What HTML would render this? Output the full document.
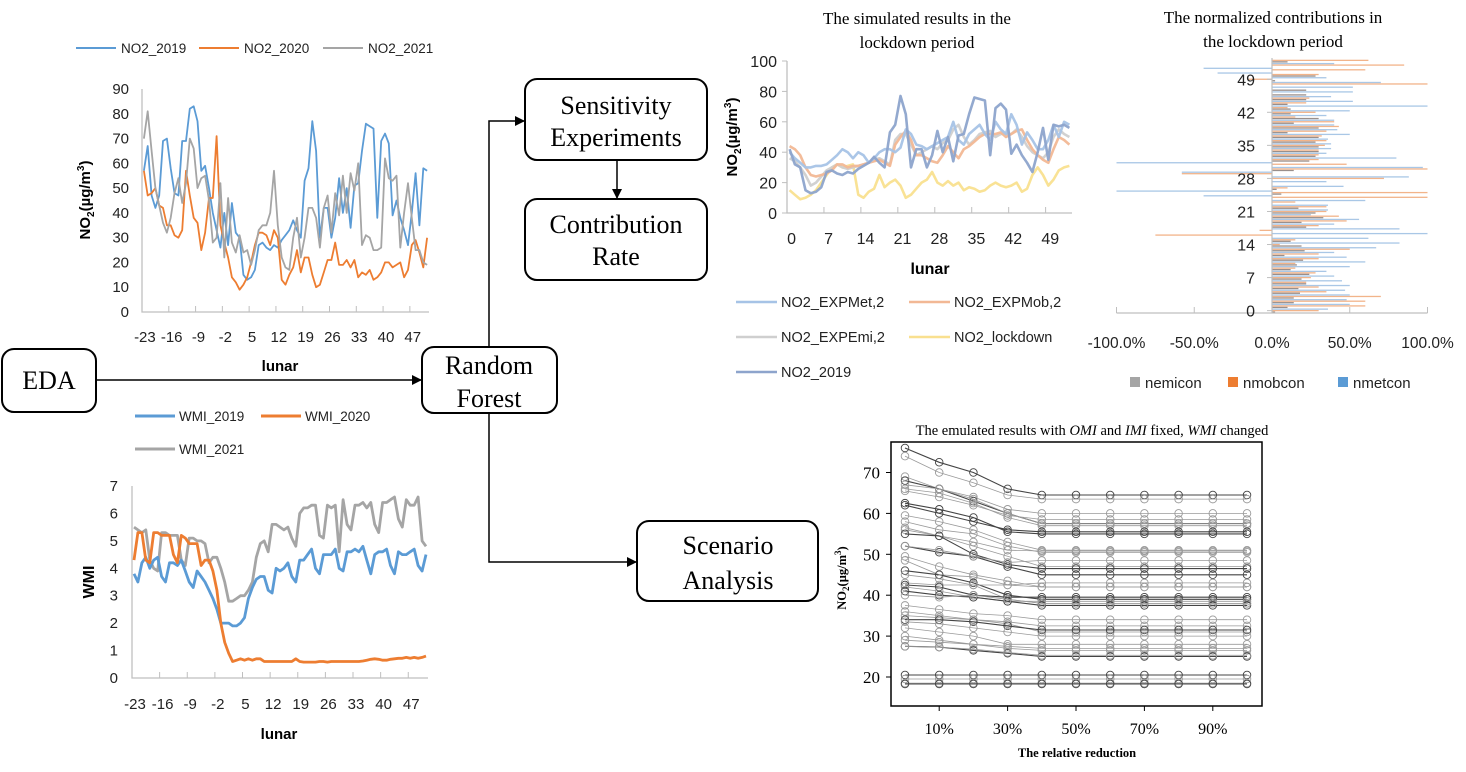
<!DOCTYPE html>
<html><head><meta charset="utf-8"><style>
html,body{margin:0;padding:0;background:#fff;}
svg{display:block;}
.sans{font-family:"Liberation Sans",sans-serif;}
.serif{font-family:"Liberation Serif",serif;}
</style></head><body>
<svg id="fig" width="1466" height="772" viewBox="0 0 1466 772" xmlns="http://www.w3.org/2000/svg">
<defs><marker id="ah" markerWidth="10" markerHeight="10" refX="9" refY="5" orient="auto" markerUnits="userSpaceOnUse"><path d="M0,0 L10,5 L0,10 z" fill="#000"/></marker></defs>
<g id="flow" fill="none" stroke="#000" stroke-width="1.5">
<line x1="96" y1="380" x2="421" y2="380" marker-end="url(#ah)"/>
<polyline points="489,347 489,121 524,121" marker-end="url(#ah)"/>
<line x1="617" y1="160" x2="617" y2="198" marker-end="url(#ah)"/>
<polyline points="489,413 489,562 636,562" marker-end="url(#ah)"/>
<rect x="2" y="349" width="94" height="63" rx="12" stroke-width="2" fill="#fff"/>
<rect x="422" y="347" width="135" height="66" rx="12" stroke-width="2" fill="#fff"/>
<rect x="525" y="79" width="182" height="81" rx="12" stroke-width="2" fill="#fff"/>
<rect x="525" y="199" width="182" height="81" rx="12" stroke-width="2" fill="#fff"/>
<rect x="637" y="521" width="181" height="80" rx="12" stroke-width="2" fill="#fff"/>
</g>
<g class="serif" font-size="26" text-anchor="middle" fill="#000">
<text x="49" y="389">EDA</text>
<text x="489" y="374">Random</text>
<text x="489" y="407">Forest</text>
<text x="616" y="114">Sensitivity</text>
<text x="616" y="146">Experiments</text>
<text x="616" y="233">Contribution</text>
<text x="616" y="265">Rate</text>
<text x="728" y="554">Scenario</text>
<text x="728" y="589">Analysis</text>
</g>
</svg>
<script>
// ---------- data ----------
const lunarA = []; for (let d = -23; d <= 51; d++) lunarA.push(d);
const lunarATicks = [-23,-16,-9,-2,5,12,19,26,33,40,47];
const no2_2019 = [57,67,47,42,47,69,70,58,48,47,69,69,82,83,77,57,59,50,40,33,26,40,27,44,32,30,15,13,14,17,27,28,26,25,27,26,29,31,33,37,33,30,53,58,77,65,30,42,42,30,38,54,40,50,34,51,52,65,76,75,74,38,69,72,68,39,45,38,33,27,40,56,35,58,57];
const no2_2020 = [57,47,48,50,43,42,35,35,31,30,33,57,47,38,36,25,32,46,46,71,35,28,22,14,12,9,11,14,20,27,32,32,31,27,33,30,13,11,15,18,25,16,22,22,15,10,11,16,21,21,28,19,19,21,18,21,14,16,15,17,13,14,16,20,20,18,19,20,14,17,27,29,24,18,30];
const no2_2021 = [70,81,65,50,43,36,32,38,48,54,44,52,70,66,50,54,55,45,28,30,52,22,46,28,24,31,24,25,19,25,33,35,35,40,57,35,22,18,17,30,38,22,30,42,42,38,26,42,47,32,48,39,55,40,56,49,60,27,31,30,25,25,26,62,54,53,55,26,40,52,38,25,25,20,19];
const no2Ticks = [0,10,20,30,40,50,60,70,80,90];
const wmi_2019 = [3.8,3.5,4.2,4.4,4.0,4.3,4.4,3.7,3.5,4.2,4.2,4.1,4.3,3.9,3.5,3.3,3.9,3.7,3.5,3.2,2.9,2.5,2.0,2.0,2.0,1.9,1.9,2.0,2.2,2.9,3.3,3.6,3.7,3.7,3.2,3.1,4.0,3.9,4.0,4.2,3.7,3.5,4.3,4.3,4.5,4.7,4.0,3.8,4.5,4.5,4.5,4.7,4.0,3.9,4.6,4.6,4.7,4.6,4.8,4.3,3.8,4.5,4.6,4.6,4.7,4.1,3.8,4.6,4.5,4.5,4.6,4.7,4.1,3.9,4.5];
const wmi_2020 = [4.3,5.3,5.3,4.3,4.2,5.3,5.3,5.2,5.2,5.2,4.5,4.2,5.2,5.1,4.9,4.9,4.9,4.1,4.3,4.3,3.9,3.2,2.0,1.3,0.9,0.6,0.65,0.7,0.65,0.7,0.65,0.7,0.7,0.6,0.6,0.6,0.6,0.6,0.6,0.6,0.6,0.7,0.6,0.58,0.58,0.58,0.58,0.6,0.6,0.58,0.6,0.6,0.6,0.6,0.6,0.6,0.6,0.6,0.62,0.65,0.68,0.7,0.68,0.65,0.65,0.68,0.7,0.72,0.72,0.75,0.72,0.75,0.72,0.75,0.8];
const wmi_2021 = [5.5,5.4,5.3,5.4,4.3,4.0,3.9,5.3,5.3,5.2,5.2,5.2,4.3,4.1,5.1,5.1,5.0,5.0,4.9,4.2,4.4,4.4,4.0,3.5,2.8,2.8,2.9,3.0,3.0,3.2,3.5,4.4,4.9,5.0,4.6,5.6,5.6,5.5,5.4,5.5,5.1,4.8,6.0,6.2,6.2,6.3,6.3,5.2,5.1,6.3,6.2,6.3,4.6,6.5,5.6,5.4,6.3,6.3,6.4,6.2,6.4,5.6,5.3,6.4,6.4,6.5,6.6,5.8,5.5,6.5,6.3,6.3,6.6,5.0,4.8];
const wmiTicks = [0,1,2,3,4,5,6,7];

const lunarB = []; for (let d = 0; d <= 53; d++) lunarB.push(d);
const lunarBTicks = [0,7,14,21,28,35,42,49];
const simTicks = [0,20,40,60,80,100];
const expMet = [40,36,33,30,30,31,31,32,35,38,42,40,36,40,38,33,36,40,42,42,40,43,55,52,45,44,42,44,46,48,50,60,48,45,52,55,58,52,48,60,55,52,65,58,45,53,48,42,42,48,58,50,60,58];
const expMob = [44,42,38,30,25,24,25,26,28,32,32,30,31,31,32,33,34,35,33,31,45,50,54,48,38,38,36,34,33,38,44,40,36,42,44,47,50,52,52,52,53,50,52,54,55,48,42,38,35,33,42,50,48,45];
const expEmi = [36,34,30,25,18,20,24,28,30,32,30,29,30,31,32,33,35,36,34,32,48,52,52,45,38,40,42,44,42,46,48,55,58,50,45,48,52,53,54,50,52,52,52,55,50,44,40,38,36,40,50,55,52,50];
const lockdown = [15,12,9,10,12,15,20,25,30,32,30,31,32,12,10,14,16,25,17,20,22,18,10,12,16,20,22,27,20,18,21,18,20,15,17,16,14,15,18,20,18,17,18,20,14,16,25,30,25,18,22,28,30,31];
const sim2019 = [42,32,30,15,13,14,17,27,28,26,25,27,26,29,31,33,37,33,30,53,58,77,65,30,42,42,30,38,54,40,50,34,51,52,65,76,75,74,38,69,72,68,39,45,38,33,27,40,56,35,58,57,58,56];

const contribCats = lunarB;
const contribTicks = [0,7,14,21,28,35,42,49];
const pctTicks = [-100,-50,0,50,100];
const nemicon = [2,10,14,14,18,17,22,19,24,12,16,20,8,21,19,12,0,0,22,19,33,28,17,0,0,6,3,0,0,0,14,0,24,28,30,30,28,30,10,30,14,30,12,12,10,22,22,22,0,2,28,0,0,10];
const nmobcon = [30,60,60,70,35,30,22,25,28,15,15,30,30,50,5,15,-75,-8,30,48,43,35,35,15,100,100,10,0,72,-58,100,48,30,30,30,34,35,32,35,43,40,15,28,10,22,24,0,0,100,-15,30,60,85,62];
const nmetcon = [36,50,48,50,47,50,45,40,35,50,60,48,40,67,82,62,100,82,40,56,25,36,36,60,-44,-100,46,35,88,-58,97,-100,80,35,38,38,36,50,42,40,40,35,50,100,52,38,52,52,70,35,-35,-44,40,0];

const reductions = [0,10,20,30,40,50,60,70,80,90,100];
const redTickLabels = [10,30,50,70,90];
const scenTicks = [20,30,40,50,60,70];
// values read at 0%,10%,20%,30%,40%; curves read flat from 40% to 100%
const scenLines = [
[76,72.5,70,66,64.5],[74,70,67.5,64.5,63.5],[69,66,64,61,60],[68,66,63,60,57.5],[67,66,63.5,60,57.5],
[66,65,62.5,59,57],[65.5,64,62,59.5,58.5],[62.5,61,59,55.5,55],[62,60,58,56,55.5],[59.5,58,56,53,51],
[58,56,55,52,50.5],[56.5,54.5,53,51,50.8],[56,54.5,52,49.5,47],[55,54.5,50,47.5,46.5],[52,50.5,49.5,47,45],
[52,51,49.5,48,48.5],[49.5,47,45,43.5,42],[48.5,45,44.5,42.5,42],[46,45,43,40,39],[45,44,42.5,39,38],
[43,42.5,42.5,42.5,43],[42.5,42,40,39.5,39.5],[42,41,39.5,38.5,38.5],[41,40,39.5,38.5,37.5],[40,39.5,40,39,38],
[37.5,36.5,35.5,35,34],[36,35,34,33.5,32.5],[35,34.5,34,33,31],[34,34,33.5,32.5,31.5],[33.5,33,32,31,30],
[32,31,30,28,28],[30,29,28,27,26.5],[29,28.5,28,27.5,27],[27.5,27.3,26.5,25.8,25],[27.5,27.3,26.8,26,25.3],
[20.5,20.5,20.5,20.5,20.5],[19.5,19.5,19.5,19.5,19.5],[18.5,18.5,18.5,18.5,18.5],[18.3,18.3,18.3,18.3,18.3]
];

// ---------- helpers ----------
const NS = "http://www.w3.org/2000/svg";
const svg = document.getElementById('fig');
function mk(tag, attrs, parent) {
  const e = document.createElementNS(NS, tag);
  for (const k in attrs) e.setAttribute(k, attrs[k]);
  (parent || svg).appendChild(e);
  return e;
}
function txt(str, attrs, parent) { const t = mk('text', attrs, parent); t.textContent = str; return t; }
function pathFrom(vals, fx, fy) { return vals.map((v, i) => (i ? 'L' : 'M') + fx(i).toFixed(1) + ',' + fy(v).toFixed(1)).join(''); }

// ---------- chart 1: NO2 top-left ----------
(function () {
  const g = mk('g', {class: 'sans'});
  
  
  const x0 = 142, x1 = 429, yB = 312, yT = 89;
  const n = lunarA.length, step = (x1 - x0) / n;
  const fx = i => x0 + (i + 0.5) * step;
  const fy = v => yB - v * (yB - yT) / 90;
  const ax = mk('path', {d: `M${x0},${yT}V${yB}H${x1}`, stroke: '#bfbfbf', fill: 'none', 'stroke-width': 1.3}, g);
  
  
  no2Ticks.forEach(v => {
    const t = txt(String(v), {x: 129, y: fy(v) + 5, 'font-size': 15, 'text-anchor': 'end', fill: '#222'}, g);
    
    
  });
  for (let k = 7; k <= n; k += 7) mk('line', {x1: x0 + k * step, x2: x0 + k * step, y1: yB, y2: yB - 6, stroke: '#bfbfbf'}, g);
  lunarATicks.forEach(d => {
    const t = txt(String(d), {x: fx(lunarA.indexOf(d)) + 1, y: 342, 'font-size': 15, 'text-anchor': 'middle', fill: '#222'}, g);
    
    
  });
  const xl = txt('lunar', {x: 280, y: 371, 'font-size': 15, 'font-weight': 'bold', 'text-anchor': 'middle'}, g);
  
  
  const yl = mk('text', {transform: 'translate(90,200) rotate(-90)', 'font-size': 15, 'font-weight': 'bold', 'text-anchor': 'middle'}, g);
  yl.innerHTML = 'NO<tspan font-size="10" dy="4">2</tspan><tspan dy="-4">(µg/m</tspan><tspan font-size="10" dy="-6">3</tspan><tspan dy="6">)</tspan>';
  
  
  const series = [[no2_2019, '#5b9bd5', 'NO2_2019', 76], [no2_2020, '#ed7d31', 'NO2_2020', 199], [no2_2021, '#a5a5a5', 'NO2_2021', 323]];
  series.forEach(s => {
    const p = mk('path', {d: pathFrom(s[0], fx, fy), stroke: s[1], fill: 'none', 'stroke-width': 1.8, 'stroke-linejoin': 'round'}, g);
    
    
    const lg = mk('g', {}, g);
    
    
    mk('line', {x1: s[3], x2: s[3] + 40, y1: 48, y2: 48, stroke: s[1], 'stroke-width': 2}, lg);
    txt(s[2], {x: s[3] + 45, y: 53, 'font-size': 13.5, fill: '#222'}, lg);
  });
})();

// ---------- chart 2: WMI bottom-left ----------
(function () {
  const g = mk('g', {class: 'sans'});
  
  
  const x0 = 132, x1 = 428, yB = 678, yT = 486;
  const n = lunarA.length, step = (x1 - x0) / n;
  const fx = i => x0 + (i + 0.5) * step;
  const fy = v => yB - v * (yB - yT) / 7;
  const ax = mk('path', {d: `M${x0},${yT}V${yB}H${x1}`, stroke: '#bfbfbf', fill: 'none', 'stroke-width': 1.3}, g);
  
  
  wmiTicks.forEach(v => {
    const t = txt(String(v), {x: 118, y: fy(v) + 5, 'font-size': 15, 'text-anchor': 'end', fill: '#222'}, g);
    
    
  });
  for (let k = 7; k <= n; k += 7) mk('line', {x1: x0 + k * step, x2: x0 + k * step, y1: yB, y2: yB - 6, stroke: '#bfbfbf'}, g);
  lunarATicks.forEach(d => {
    const t = txt(String(d), {x: fx(lunarA.indexOf(d)) + 1, y: 709, 'font-size': 15, 'text-anchor': 'middle', fill: '#222'}, g);
    
    
  });
  const xl = txt('lunar', {x: 279, y: 739, 'font-size': 15, 'font-weight': 'bold', 'text-anchor': 'middle'}, g);
  
  
  const yl = txt('WMI', {transform: 'translate(94,582) rotate(-90)', 'font-size': 16, 'font-weight': 'bold', 'text-anchor': 'middle'}, g);
  
  
  const series = [[wmi_2019, '#5b9bd5', 'WMI_2019', 135, 416], [wmi_2020, '#ed7d31', 'WMI_2020', 261, 416], [wmi_2021, '#a5a5a5', 'WMI_2021', 135, 449]];
  [series[2], series[0], series[1]].forEach(s => {
    const p = mk('path', {d: pathFrom(s[0], fx, fy), stroke: s[1], fill: 'none', 'stroke-width': 2.8, 'stroke-linejoin': 'round'}, g);
    
    
  });
  series.forEach(s => {
    const lg = mk('g', {}, g);
    
    
    mk('line', {x1: s[3], x2: s[3] + 40, y1: s[4], y2: s[4], stroke: s[1], 'stroke-width': 3}, lg);
    txt(s[2], {x: s[3] + 44, y: s[4] + 5, 'font-size': 13.5, fill: '#222'}, lg);
  });
})();

// ---------- chart 3: simulated results ----------
(function () {
  const g = mk('g', {class: 'sans'});
  
  
  const x0 = 787, x1 = 1072, yB = 213, yT = 61;
  const n = lunarB.length, step = (x1 - x0) / n;
  const fx = i => x0 + (i + 0.5) * step;
  const fy = v => yB - v * (yB - yT) / 100;
  const t1 = txt('The simulated results in the', {x: 917, y: 24, 'font-size': 17, 'text-anchor': 'middle', class: 'serif'}, g);
  
  
  const t2 = txt('lockdown period', {x: 917, y: 48, 'font-size': 17, 'text-anchor': 'middle', class: 'serif'}, g);
  
  
  const ax = mk('path', {d: `M${x0},${yT}V${yB}H${x1}`, stroke: '#bfbfbf', fill: 'none', 'stroke-width': 1.3}, g);
  
  
  simTicks.forEach(v => {
    mk('line', {x1: x0 - 5, x2: x0, y1: fy(v), y2: fy(v), stroke: '#bfbfbf'}, g);
    const t = txt(String(v), {x: 777, y: fy(v) + 6, 'font-size': 16, 'text-anchor': 'end', fill: '#222'}, g);
    
    
  });
  for (let k = 7; k <= n; k += 7) mk('line', {x1: x0 + k * step, x2: x0 + k * step, y1: yB, y2: yB - 6, stroke: '#bfbfbf'}, g);
  lunarBTicks.forEach(d => {
    const t = txt(String(d), {x: fx(lunarB.indexOf(d)) + 2, y: 244, 'font-size': 16, 'text-anchor': 'middle', fill: '#222'}, g);
    
    
  });
  const xl = txt('lunar', {x: 930, y: 274, 'font-size': 16, 'font-weight': 'bold', 'text-anchor': 'middle'}, g);
  
  
  const yl = mk('text', {transform: 'translate(737,137) rotate(-90)', 'font-size': 15, 'font-weight': 'bold', 'text-anchor': 'middle'}, g);
  yl.innerHTML = 'NO<tspan font-size="10" dy="4">2</tspan><tspan dy="-4">(µg/m</tspan><tspan font-size="10" dy="-6">3</tspan><tspan dy="6">)</tspan>';
  
  
  const series = [
    [lockdown, '#f9e08f', 'NO2_lockdown', 909, 337],
    [expEmi, '#cfcfcf', 'NO2_EXPEmi,2', 736, 337],
    [expMob, '#f2b895', 'NO2_EXPMob,2', 909, 302],
    [expMet, '#a6c3e6', 'NO2_EXPMet,2', 736, 302],
    [sim2019, '#8da4cc', 'NO2_2019', 736, 372]
  ];
  series.forEach(s => {
    const p = mk('path', {d: pathFrom(s[0], fx, fy), stroke: s[1], fill: 'none', 'stroke-width': 2.6, 'stroke-linejoin': 'round', 'stroke-opacity': 0.95}, g);
    
    
    const lg = mk('g', {}, g);
    
    
    mk('line', {x1: s[3], x2: s[3] + 41, y1: s[4], y2: s[4], stroke: s[1], 'stroke-width': 2.6}, lg);
    txt(s[2], {x: s[3] + 45, y: s[4] + 5, 'font-size': 14.5, fill: '#222'}, lg);
  });
})();

// ---------- chart 4: normalized contributions ----------
(function () {
  const g = mk('g', {class: 'sans'});
  
  
  const xZ = 1272, pxPer = 155.5 / 100, yB = 313, yT = 58;
  const n = contribCats.length, slot = (yB - yT) / n;
  const fx = v => xZ + v * pxPer;
  const fyc = i => yB - (i + 0.5) * slot;
  const t1 = txt('The normalized contributions in', {x: 1273, y: 23, 'font-size': 17, 'text-anchor': 'middle', class: 'serif'}, g);
  
  
  const t2 = txt('the lockdown period', {x: 1273, y: 47, 'font-size': 17, 'text-anchor': 'middle', class: 'serif'}, g);
  
  
  const series = [[nemicon, '#9a8f8b', 'nemicon', -1], [nmobcon, '#f2b48a', 'nmobcon', 0], [nmetcon, '#a9c7e6', 'nmetcon', 1]];
  contribCats.forEach((c, i) => {
    series.forEach(s => {
      const v = s[0][i];
      const y = fyc(i) - s[3] * 1.5 - 0.65;
      const r = mk('rect', {x: Math.min(fx(0), fx(v)), y: y, width: Math.abs(fx(v) - fx(0)), height: 1.3, fill: s[1]}, g);
      
      
    });
  });
  const ax = mk('path', {d: `M${xZ},${yT}V${yB}M${fx(-100)},${yB}H${fx(100)}`, stroke: '#bfbfbf', fill: 'none', 'stroke-width': 1.2}, g);
  
  
  pctTicks.forEach(v => {
    mk('line', {x1: fx(v), x2: fx(v), y1: yB, y2: yB - 6, stroke: '#bfbfbf'}, g);
    const t = txt(v.toFixed(1) + '%', {x: fx(v), y: 348, 'font-size': 15.5, 'text-anchor': 'middle', fill: '#222'}, g);
    
    
  });
  contribTicks.forEach(c => {
    const i = contribCats.indexOf(c);
    mk('line', {x1: xZ - 5, x2: xZ, y1: fyc(i), y2: fyc(i), stroke: '#bfbfbf'}, g);
    const t = txt(String(c), {x: 1255, y: fyc(i) + 6, 'font-size': 16, 'text-anchor': 'end', fill: '#222'}, g);
    
    
  });
  const lx = [1130, 1228, 1338];
  series.forEach((s, k) => {
    const lg = mk('g', {}, g);
    
    
    mk('rect', {x: lx[k], y: 377, width: 10, height: 10, fill: ['#a5a5a5', '#ed7d31', '#5b9bd5'][k]}, lg);
    txt(s[2], {x: lx[k] + 15, y: 388, 'font-size': 15, fill: '#222'}, lg);
  });
})();

// ---------- chart 5: scenario emulation ----------
(function () {
  const g = mk('g', {class: 'serif'});
  
  
  const fx = p => 905 + p * 3.42;
  const fy = v => 677 - (v - 20) * 4.09;
  const ti = mk('text', {x: 1092, y: 435, 'font-size': 14.5, 'text-anchor': 'middle'}, g);
  ti.innerHTML = 'The emulated results with <tspan font-style="italic">OMI</tspan> and <tspan font-style="italic">IMI</tspan> fixed, <tspan font-style="italic">WMI</tspan> changed';
  
  
  scenLines.forEach((L, li) => {
    const vals = reductions.map((r, k) => L[Math.min(k, L.length - 1)]);
    const dark = (li % 5 === 3 || li % 7 === 0);
    const col = dark ? '#444' : '#9a9a9a';
    const lg = mk('g', {}, g);
    
    
    mk('path', {d: pathFrom(vals, k => fx(reductions[k]), fy), stroke: col, fill: 'none', 'stroke-width': dark ? 1.1 : 0.8}, lg);
    vals.forEach((v, k) => {
      const c = mk('circle', {cx: fx(reductions[k]), cy: fy(v), r: 3.8, fill: 'none', stroke: col, 'stroke-width': 0.9}, lg);
      
      
    });
  });
  const fr = mk('rect', {x: 891, y: 442, width: 371, height: 264, fill: 'none', stroke: '#000', 'stroke-width': 1.5}, g);
  
  
  scenTicks.forEach(v => {
    mk('line', {x1: 886, x2: 891, y1: fy(v), y2: fy(v), stroke: '#000'}, g);
    const t = txt(String(v), {x: 880, y: fy(v) + 6, 'font-size': 17, 'text-anchor': 'end'}, g);
    
    
  });
  redTickLabels.forEach(p => {
    mk('line', {x1: fx(p), x2: fx(p), y1: 706, y2: 711, stroke: '#000'}, g);
    const t = txt(p + '%', {x: fx(p), y: 734, 'font-size': 16, 'text-anchor': 'middle'}, g);
    
    
  });
  const xl = txt('The relative reduction', {x: 1077, y: 757, 'font-size': 12.5, 'font-weight': 'bold', 'text-anchor': 'middle'}, g);
  
  
  const yl = mk('text', {transform: 'translate(846,578) rotate(-90)', 'font-size': 12.5, 'font-weight': 'bold', 'text-anchor': 'middle'}, g);
  yl.innerHTML = 'NO<tspan font-size="9" dy="3">2</tspan><tspan dy="-3">(µg/m</tspan><tspan font-size="9" dy="-5">3</tspan><tspan dy="5">)</tspan>';
  
  
})();

// keep flowchart on top
svg.appendChild(document.getElementById('flow'));
Array.from(svg.querySelectorAll('text.serif, g.serif[font-size="26"]')).forEach(e => svg.appendChild(e));
</script>
</body></html>
